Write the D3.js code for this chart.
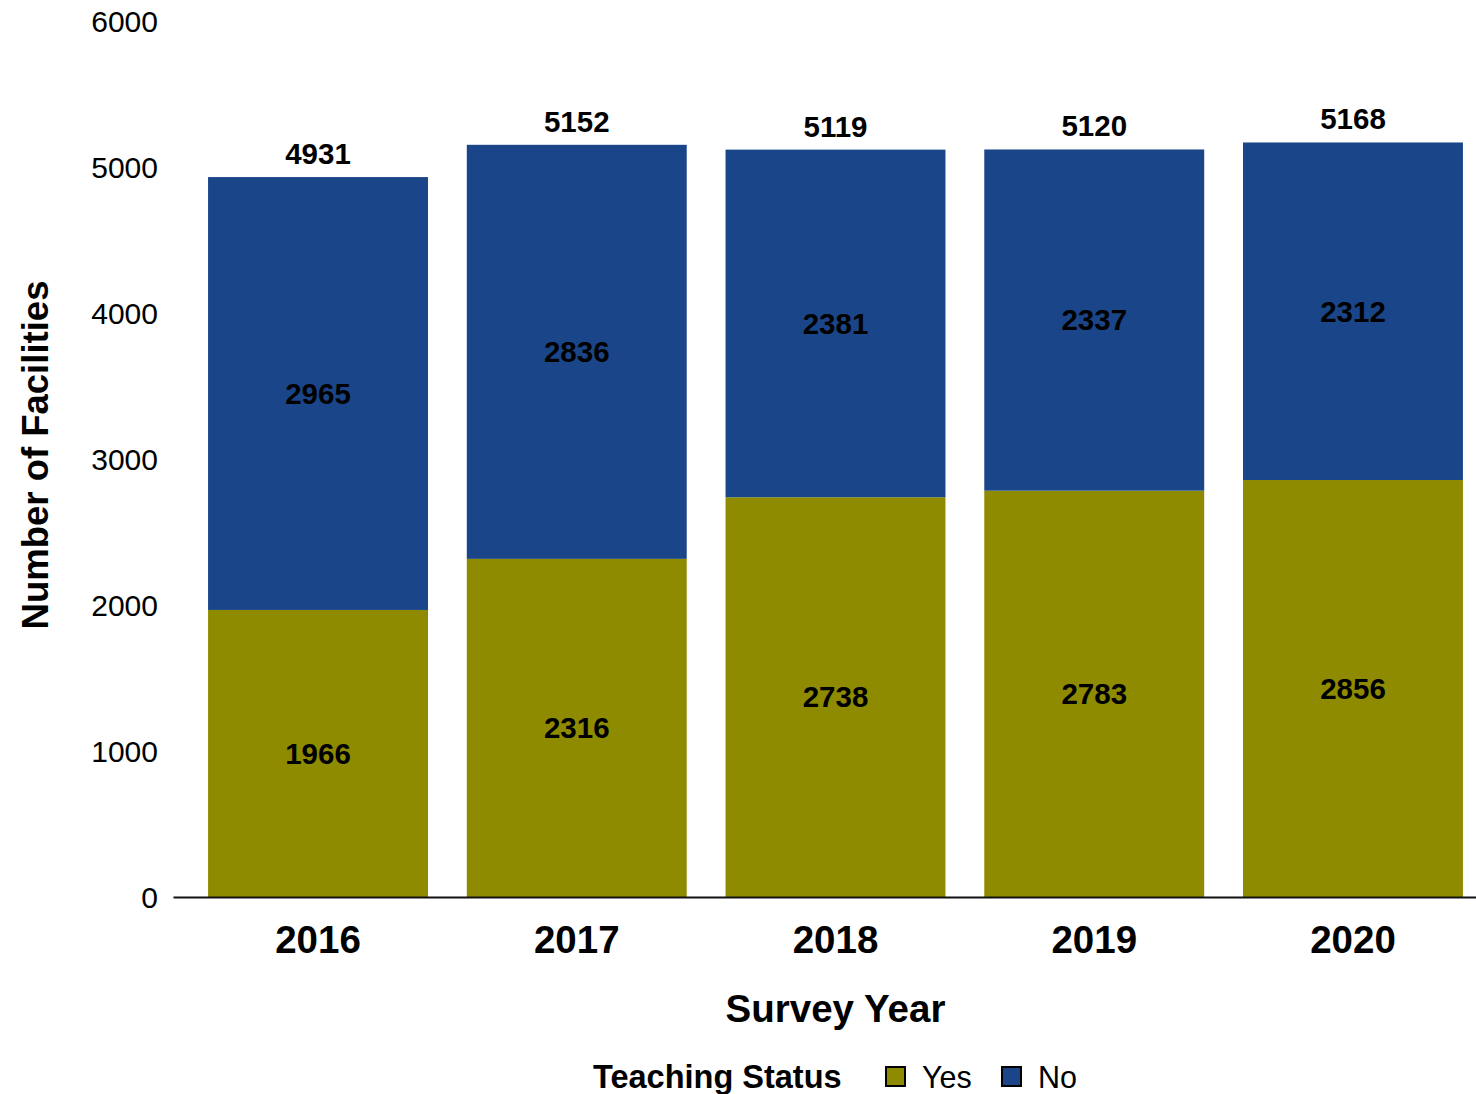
<!DOCTYPE html>
<html>
<head>
<meta charset="utf-8">
<script src="https://cdn.jsdelivr.net/npm/d3@7"></script>
<style>
  html, body { margin: 0; padding: 0; background: #fff; }
  svg { display: block; font-family: "Liberation Sans", Arial, Helvetica, sans-serif; }
</style>
</head>
<body>
<svg id="chart" width="1476" height="1094"></svg>
<script>
// Survey years and facility counts by teaching status
const years = ["2016", "2017", "2018", "2019", "2020"];
const teachingYes = [1966, 2316, 2738, 2783, 2856];
const teachingNo = [2965, 2836, 2381, 2337, 2312];
const yTicks = [0, 1000, 2000, 3000, 4000, 5000, 6000];
const seriesKeys = ["Yes", "No"];
const seriesColors = ["#8e8b00", "#1a4689"];

const rows = years.map((y, i) => ({ year: y, Yes: teachingYes[i], No: teachingNo[i] }));
const stacked = d3.stack().keys(seriesKeys)(rows);

const svg = d3.select("#chart");

const x = d3.scaleBand()
  .domain(years)
  .range([173, 1498])
  .paddingInner(0.15)
  .paddingOuter(0.1355);

const y = d3.scaleLinear()
  .domain([0, 6000])
  .range([897, 21]);

const color = d3.scaleOrdinal().domain(seriesKeys).range(seriesColors);

// stacked bar segments
const layers = svg.append("g")
  .selectAll("g")
  .data(stacked)
  .join("g")
  .attr("fill", d => color(d.key));

layers.selectAll("rect")
  .data(d => d)
  .join("rect")
  .attr("x", d => x(d.data.year))
  .attr("width", x.bandwidth())
  .attr("y", d => y(d[1]))
  .attr("height", d => y(d[0]) - y(d[1]));

// segment value labels, centred in each segment
layers.selectAll("text")
  .data(d => d)
  .join("text")
  .attr("x", d => x(d.data.year) + x.bandwidth() / 2)
  .attr("y", d => y((d[0] + d[1]) / 2))
  .attr("dy", "0.35em")
  .attr("text-anchor", "middle")
  .attr("font-size", 29.5)
  .attr("font-weight", "bold")
  .attr("fill", "#000")
  .text(d => d[1] - d[0]);

// totals above each bar
svg.append("g")
  .selectAll("text")
  .data(rows)
  .join("text")
  .attr("x", d => x(d.year) + x.bandwidth() / 2)
  .attr("y", d => y(d.Yes + d.No) - 13)
  .attr("text-anchor", "middle")
  .attr("font-size", 29.5)
  .attr("font-weight", "bold")
  .attr("fill", "#000")
  .text(d => d.Yes + d.No);

// y axis (labels only)
const yAxis = svg.append("g")
  .attr("transform", "translate(161,0)")
  .call(d3.axisLeft(y).tickValues(yTicks).tickSize(0).tickPadding(3).tickFormat(d3.format("d")));
yAxis.select(".domain").remove();
yAxis.selectAll("text")
  .attr("font-family", "Liberation Sans, Arial, sans-serif")
  .attr("font-size", 30)
  .attr("dy", "0.36em")
  .attr("fill", "#000");

// x axis
const xAxis = svg.append("g")
  .attr("transform", "translate(0,897)")
  .call(d3.axisBottom(x).tickSize(0).tickSizeOuter(0).tickPadding(29));
xAxis.select(".domain").attr("stroke", "#111").attr("stroke-width", 2);
xAxis.selectAll("text")
  .attr("font-family", "Liberation Sans, Arial, sans-serif")
  .attr("font-size", 38.5)
  .attr("font-weight", "bold")
  .attr("fill", "#000");

// axis titles
svg.append("text")
  .attr("x", x(years[0]) + (x(years[years.length - 1]) + x.bandwidth() - x(years[0])) / 2)
  .attr("y", 1022)
  .attr("text-anchor", "middle")
  .attr("font-size", 38.5)
  .attr("font-weight", "bold")
  .text("Survey Year");

svg.append("text")
  .attr("transform", "translate(48,455) rotate(-90)")
  .attr("text-anchor", "middle")
  .attr("font-size", 36.5)
  .attr("font-weight", "bold")
  .text("Number of Facilities");

// legend
const legend = svg.append("g");
legend.append("text")
  .attr("x", 593)
  .attr("y", 1088)
  .attr("font-size", 32.5)
  .attr("font-weight", "bold")
  .text("Teaching Status");

const legendItems = [
  { key: "Yes", box: 886, label: 922 },
  { key: "No", box: 1002, label: 1038 }
];
const items = legend.selectAll("g.item")
  .data(legendItems)
  .join("g")
  .attr("class", "item");
items.append("rect")
  .attr("x", d => d.box)
  .attr("y", 1067)
  .attr("width", 19)
  .attr("height", 19)
  .attr("fill", d => color(d.key))
  .attr("stroke", "#000")
  .attr("stroke-width", 2);
items.append("text")
  .attr("x", d => d.label)
  .attr("y", 1088)
  .attr("font-size", 30.5)
  .text(d => d.key);
</script>
</body>
</html>
